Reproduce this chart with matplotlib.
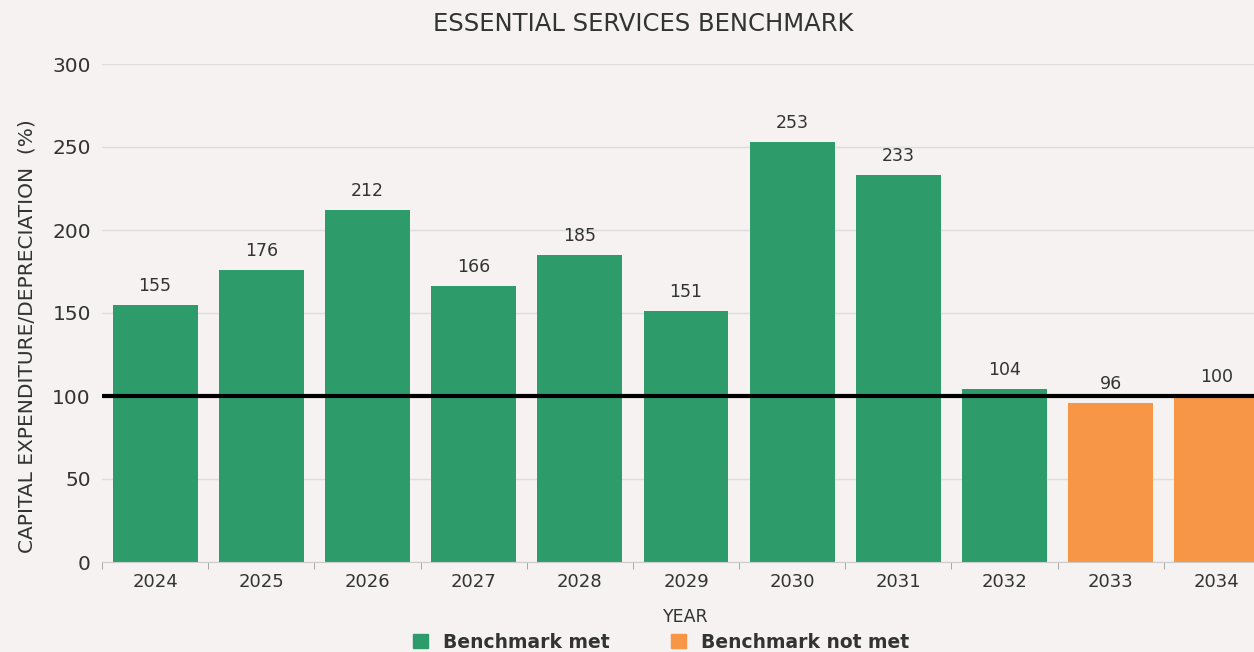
import matplotlib
matplotlib.use("Agg")
import matplotlib.pyplot as plt
from matplotlib.patches import Patch
import numpy as np

# chart data
years = ["2024", "2025", "2026", "2027", "2028", "2029", "2030", "2031", "2032", "2033", "2034"]
ratio = [155, 176, 212, 166, 185, 151, 253, 233, 104, 96, 100]
met = [True, True, True, True, True, True, True, True, True, False, False]
benchmark = 100

green = "#2e9c6a"
orange = "#f79646"
bg = "#f5f2f1"
txt = "#333333"

plt.rcParams['font.family'] = ['DejaVu Sans']

fig = plt.figure(figsize=(12.54, 6.52), dpi=100, facecolor=bg)
ax = fig.add_axes([102 / 1254, 90 / 652, 1168 / 1254, 498 / 652])
ax.set_facecolor(bg)

x = np.arange(len(years))
colors = [green if m else orange for m in met]
ax.bar(x, ratio, width=0.8, color=colors, zorder=2)
for xi, v in zip(x, ratio):
    ax.text(xi, v + 6, str(v), ha="center", va="bottom", fontsize=12.5, color=txt)

ax.axhline(benchmark, color="black", lw=3, zorder=3)

ax.set_xlim(-0.5, len(years) - 0.5)
ax.set_ylim(0, 300)
ax.set_yticks(range(0, 301, 50))
ax.set_xticks(x)
ax.set_xticklabels(years)
ax.set_xticks(np.arange(-0.5, len(years), 1), minor=True)
ax.tick_params(axis="x", which="major", length=0, labelsize=13, colors=txt, pad=8)
ax.tick_params(axis="x", which="minor", length=5, color="#999999")
ax.tick_params(axis="y", length=0, labelsize=14.5, colors=txt, pad=8)
ax.yaxis.grid(True, color="#dddddd", lw=1, zorder=0)
for s in ["top", "right", "left"]:
    ax.spines[s].set_visible(False)
ax.spines["bottom"].set_color("#cccccc")

ax.set_xlabel("YEAR", fontsize=12.5, color=txt, labelpad=12)
ax.set_ylabel("CAPITAL EXPENDITURE/DEPRECIATION  (%)", fontsize=14.5, color=txt)
ax.yaxis.set_label_coords(-0.056, 0.454)
fig.text(0.513, 0.963, "ESSENTIAL SERVICES BENCHMARK", ha="center", va="center", fontsize=17.5, color=txt)

handles = [Patch(color=green, label="Benchmark met"), Patch(color=orange, label="Benchmark not met")]
fig.legend(handles=handles, loc="center", bbox_to_anchor=(0.527, 0.015), ncol=2, frameon=False,
           prop={"weight": "bold", "size": 13.5}, handlelength=0.8, handleheight=0.8,
           columnspacing=3.3, labelcolor=txt)

fig.savefig("out.png", dpi=100, facecolor=bg)
